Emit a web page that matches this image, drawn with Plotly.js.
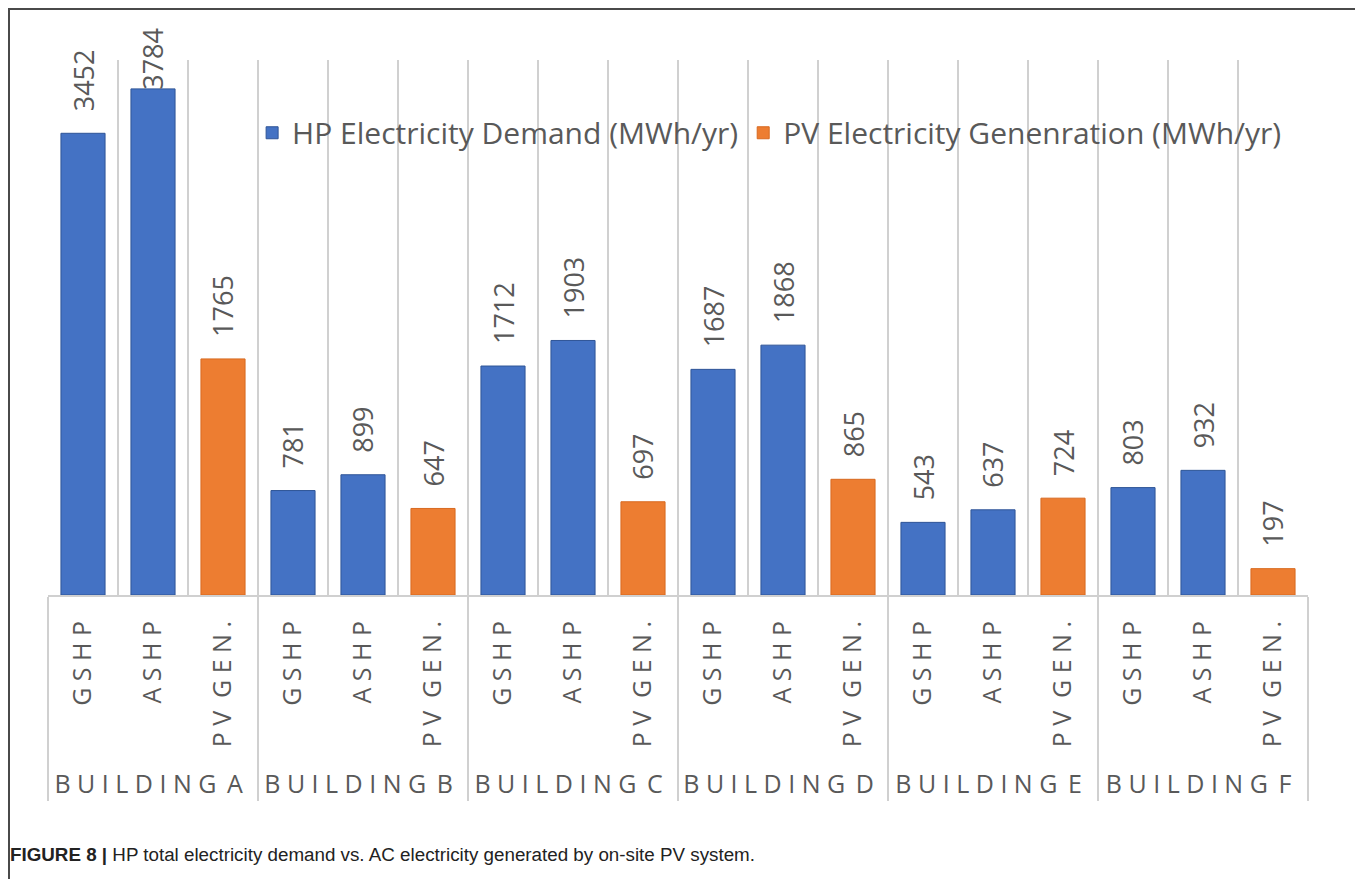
<!DOCTYPE html>
<html>
<head>
<meta charset="utf-8">
<script src="https://cdn.plot.ly/plotly-3.0.1.min.js"></script>
<style>
  html, body { margin: 0; padding: 0; background: #fff; }
  #wrap { position: relative; width: 1355px; height: 879px; overflow: hidden; }
  #chart { position: absolute; left: 0; top: 0; width: 1355px; height: 879px; }
  #frame { position: absolute; left: 8px; top: 8px; right: -10px; bottom: -10px;
           border-left: 2px solid #4a4a4a; border-top: 2px solid #4a4a4a; pointer-events: none; }
  #caption { position: absolute; left: 10px; top: 844px; font-family: "Liberation Sans", Arial, sans-serif;
             font-size: 18.8px; color: #222; white-space: nowrap; }
  #caption b { font-weight: bold; }
</style>
</head>
<body>
<div id="wrap">
  <div id="chart"></div>
  <div id="frame"></div>
  <div id="caption"><b>FIGURE 8 |</b> HP total electricity demand vs. AC electricity generated by on-site PV system.</div>
</div>
<script>
// ---- data ----
const buildings = ['BUILDING A', 'BUILDING B', 'BUILDING C', 'BUILDING D', 'BUILDING E', 'BUILDING F'];
const systems = ['GSHP', 'ASHP', 'PV GEN.'];
const gshpDemand = [3452, 781, 1712, 1687, 543, 803];
const ashpDemand = [3784, 899, 1903, 1868, 637, 932];
const pvGeneration = [1765, 647, 697, 865, 724, 197];
const hpName = 'HP Electricity Demand (MWh/yr)';
const pvName = 'PV Electricity Genenration (MWh/yr)';

// letter-spaced label text (imitates the wide character spacing of the original)
function spaced(s, wordGap) {
  return s.split(' ').map(w => w.split('').join('\u00a0')).join(wordGap);
}

const groupCats = [], subCats = [], hpY = [], pvY = [], allY = [];
buildings.forEach((b, i) => {
  const vals = [gshpDemand[i], ashpDemand[i], pvGeneration[i]];
  systems.forEach((s, j) => {
    groupCats.push(spaced(b, '\u00a0\u2009'));
    // leading blanks keep the rotated labels top-aligned while giving room below them
    subCats.push('\u00a0\u00a0' + spaced(s, '\u00a0\u00a0'));
    hpY.push(j < 2 ? vals[j] : null);
    pvY.push(j === 2 ? vals[j] : null);
    allY.push(vals[j]);
  });
});

const W = 1355, H = 879;
const margin = { l: 48, r: 47, t: 60, b: 284 };
const yMax = 4000;
const plotH = H - margin.t - margin.b;
const textColor = '#595959';
const fontFam = '"Open Sans", "Noto Sans", sans-serif';

const labelFont = 27;
const annotations = allY.map((v, k) => {
  const barTopPx = margin.t + plotH * (1 - v / yMax);
  const textLen = String(v).length * 0.572 * labelFont;
  const shift = Math.min(20, barTopPx - 30 - textLen);
  return {
    x: [groupCats[k], subCats[k]], y: v, xref: 'x', yref: 'y',
    text: String(v), showarrow: false, textangle: -90,
    yanchor: 'bottom', xanchor: 'center', yshift: shift,
    font: { family: fontFam, size: labelFont, color: textColor }
  };
});

const traces = [
  { type: 'bar', name: hpName, x: [groupCats, subCats], y: hpY,
    marker: { color: '#4472C4', line: { color: '#2f5597', width: 1 } }, hoverinfo: 'none', cliponaxis: false },
  { type: 'bar', name: pvName, x: [groupCats, subCats], y: pvY,
    marker: { color: '#ED7D31', line: { color: '#d86a20', width: 1 } }, hoverinfo: 'none', cliponaxis: false }
];

const layout = {
  width: W, height: H, margin: margin,
  paper_bgcolor: '#fff', plot_bgcolor: '#fff',
  barmode: 'overlay', bargap: 0.37,
  showlegend: true,
  legend: { orientation: 'h', x: 0.162, xanchor: 'left', y: 0.864, yanchor: 'middle',
            bgcolor: 'rgba(0,0,0,0)', font: { family: fontFam, size: 30, color: textColor },
            itemwidth: 30 },
  xaxis: { type: 'multicategory', tickson: 'boundaries', showgrid: true, gridcolor: '#d0d0d0', gridwidth: 2,
           showline: true, linecolor: '#d0d0d0', linewidth: 2, ticks: '', tickangle: -90,
           ticklabelstandoff: 14,
           showdividers: true, dividercolor: '#d0d0d0', dividerwidth: 2,
           tickfont: { family: fontFam, size: 25, color: textColor }, fixedrange: true },
  yaxis: { range: [0, yMax], showgrid: false, zeroline: false, showticklabels: false, ticks: '', fixedrange: true },
  annotations: annotations
};

Plotly.newPlot('chart', traces, layout, { displayModeBar: false, staticPlot: true });
</script>
</body>
</html>
